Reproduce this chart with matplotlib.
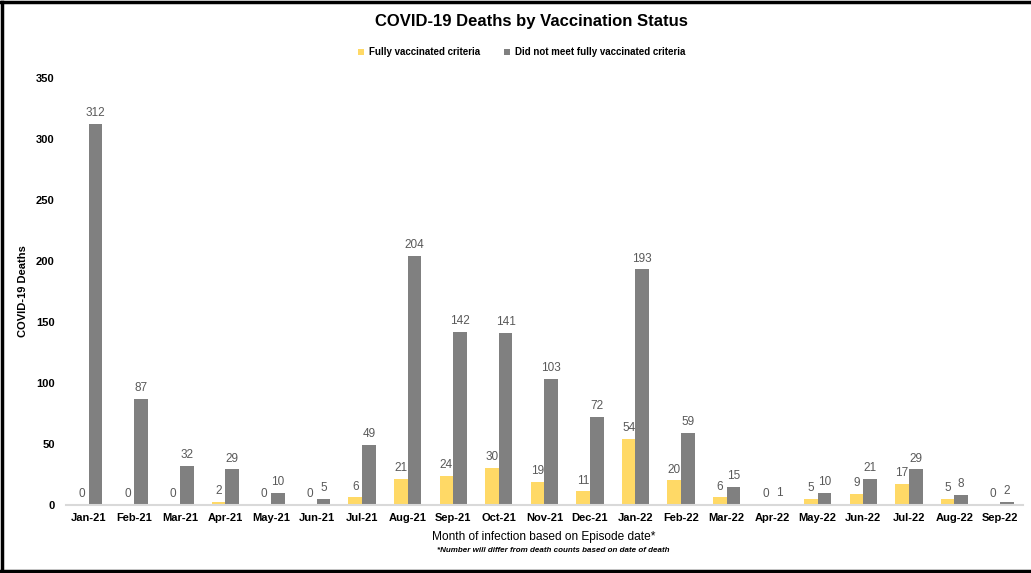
import matplotlib
matplotlib.use('Agg')
import matplotlib.pyplot as plt
import numpy as np

# data
months = ['Jan-21', 'Feb-21', 'Mar-21', 'Apr-21', 'May-21', 'Jun-21', 'Jul-21',
          'Aug-21', 'Sep-21', 'Oct-21', 'Nov-21', 'Dec-21', 'Jan-22', 'Feb-22',
          'Mar-22', 'Apr-22', 'May-22', 'Jun-22', 'Jul-22', 'Aug-22', 'Sep-22']
fully_vax = [0, 0, 0, 2, 0, 0, 6, 21, 24, 30, 19, 11, 54, 20, 6, 0, 5, 9, 17, 5, 0]
not_fully = [312, 87, 32, 29, 10, 5, 49, 204, 142, 141, 103, 72, 193, 59, 15, 1, 10, 21, 29, 8, 2]
y_ticks = [0, 50, 100, 150, 200, 250, 300, 350]

plt.rcParams['font.family'] = ['Liberation Sans', 'DejaVu Sans']

yellow = '#FFD966'
grey = '#808080'

fig = plt.figure(figsize=(10.31, 5.73), dpi=100)
ax = fig.add_axes([0.064, 0.119, 0.928, 0.745])

x = np.arange(len(months))
w = 0.3
ax.bar(x - w / 2, fully_vax, w, color=yellow, label='Fully vaccinated criteria')
ax.bar(x + w / 2, not_fully, w, color=grey, label='Did not meet fully vaccinated criteria')

# value labels
for i in range(len(months)):
    ax.text(x[i] - w / 2, fully_vax[i] + 4, str(fully_vax[i]), ha='center', va='bottom',
            fontsize=8.5, color='#595959')
    ax.text(x[i] + w / 2, not_fully[i] + 4, str(not_fully[i]), ha='center', va='bottom',
            fontsize=8.5, color='#595959')

ax.set_xlim(-0.5, len(months) - 0.5)
ax.set_ylim(0, 350)
ax.set_yticks(y_ticks)
ax.set_yticklabels([str(t) for t in y_ticks], fontsize=8, fontweight='bold')
ax.set_xticks(x)
ax.set_xticklabels(months, fontsize=8, fontweight='bold')
ax.tick_params(axis='both', length=0)
ax.tick_params(axis='y', pad=8)
ax.tick_params(axis='x', pad=6)

for s in ['top', 'right', 'left']:
    ax.spines[s].set_visible(False)
ax.spines['bottom'].set_color('#D9D9D9')
ax.spines['bottom'].set_linewidth(1.5)

ax.set_ylabel('COVID-19 Deaths', fontsize=8, fontweight='bold')
ax.yaxis.set_label_coords(-0.04, 0.5)

fig.text(0.515, 0.962, 'COVID-19 Deaths by Vaccination Status', ha='center', va='center',
         fontsize=12, fontweight='bold')
ax.legend(loc='center', bbox_to_anchor=(0.506, 0.909), bbox_transform=fig.transFigure,
          ncol=2, frameon=False, handlelength=0.6, handleheight=0.6,
          columnspacing=2.5, handletextpad=0.5, prop={'weight': 'bold', 'size': 7})

fig.text(0.527, 0.063, 'Month of infection based on Episode date*', ha='center', va='center',
         fontsize=8.6)
fig.text(0.537, 0.039, '*Number will differ from death counts based on date of death',
         ha='center', va='center', fontsize=5.8, fontweight='bold', style='italic')

# frame lines on left, top and bottom
fig.add_artist(plt.Line2D([0.002, 0.002], [0.004, 0.996], color='black', lw=2.5, transform=fig.transFigure))
fig.add_artist(plt.Line2D([0.0, 1.0], [0.996, 0.996], color='black', lw=2.5, transform=fig.transFigure))
fig.add_artist(plt.Line2D([0.0, 1.0], [0.004, 0.004], color='black', lw=2.5, transform=fig.transFigure))

fig.savefig('out.png', dpi=100)
